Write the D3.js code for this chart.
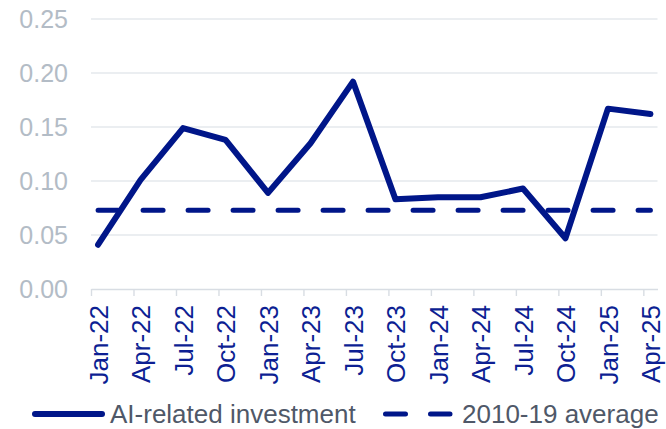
<!DOCTYPE html>
<html>
<head>
<meta charset="utf-8">
<script src="https://cdn.jsdelivr.net/npm/d3@7"></script>
<style>
  html, body { margin: 0; padding: 0; background: #ffffff; }
  svg { display: block; font-family: "Liberation Sans", Arial, sans-serif; }
</style>
</head>
<body>
<svg id="chart" width="666" height="429"></svg>
<script>
// ---- Data ----
const quarterLabels = ["Jan-22","Apr-22","Jul-22","Oct-22","Jan-23","Apr-23","Jul-23","Oct-23","Jan-24","Apr-24","Jul-24","Oct-24","Jan-25","Apr-25"];
const aiInvestment = [0.041, 0.101, 0.149, 0.138, 0.089, 0.135, 0.192, 0.083, 0.085, 0.085, 0.093, 0.047, 0.167, 0.162];
const avg201019 = [0.073, 0.073, 0.073, 0.073, 0.073, 0.073, 0.073, 0.073, 0.073, 0.073, 0.073, 0.073, 0.073, 0.073];
const yTicks = [0, 0.05, 0.10, 0.15, 0.20, 0.25];
const seriesNames = ["AI-related investment", "2010-19 average"];
const monthsPerQuarter = 3;
const totalMonths = 40; // Jan-22 .. Apr-25 monthly slots

// ---- Layout ----
const svg = d3.select("#chart");
const plotLeft = 91, plotRight = 657.5, plotTop = 19, plotBottom = 289;
const navy = "#001689";
const gridColor = "#d8dde3";

const x = d3.scaleLinear().domain([0, totalMonths]).range([plotLeft, plotRight]);
const y = d3.scaleLinear().domain([0, 0.25]).range([plotBottom, plotTop]);
const xPos = i => x(i * monthsPerQuarter + 0.5);

// gridlines
svg.append("g")
  .selectAll("line")
  .data(yTicks.filter(d => d > 0))
  .join("line")
  .attr("x1", plotLeft).attr("x2", plotRight)
  .attr("y1", d => y(d)).attr("y2", d => y(d))
  .attr("stroke", gridColor).attr("stroke-width", 1.2);

// y axis labels
const yAxis = svg.append("g")
  .attr("transform", `translate(${plotLeft},0)`)
  .call(d3.axisLeft(y).tickValues(yTicks).tickFormat(d3.format(".2f")).tickSize(0).tickPadding(23));
yAxis.select(".domain").remove();
yAxis.selectAll("text")
  .attr("fill", "#b3bcc6")
  .style("font-size", "25px");

// x axis (ticks at quarter boundaries)
const xAxis = svg.append("g")
  .attr("transform", `translate(0,${plotBottom})`)
  .call(d3.axisBottom(x)
    .tickValues(quarterLabels.map((d, i) => i * monthsPerQuarter))
    .tickFormat("")
    .tickSize(7)
    .tickSizeOuter(0));
xAxis.select(".domain").attr("stroke", gridColor).attr("stroke-width", 1.4);
xAxis.selectAll(".tick line").attr("stroke", gridColor).attr("stroke-width", 1.4);

// x labels (rotated, centered on quarter's first month)
const xLab = svg.append("g")
  .attr("transform", `translate(0,${plotBottom})`)
  .call(d3.axisBottom(x)
    .tickValues(quarterLabels.map((d, i) => i * monthsPerQuarter + 0.5))
    .tickFormat((d, i) => quarterLabels[i])
    .tickSize(0));
xLab.select(".domain").remove();
xLab.selectAll("text")
  .attr("transform", "rotate(-90)")
  .attr("text-anchor", "end")
  .attr("x", -16)
  .attr("y", 0)
  .attr("dy", "0.36em")
  .attr("fill", "#0d1f93")
  .style("font-size", "26px");

// lines
const lineGen = d3.line().x((d, i) => xPos(i)).y(d => y(d));

svg.append("path")
  .datum(avg201019)
  .attr("d", lineGen)
  .attr("fill", "none")
  .attr("stroke", navy)
  .attr("stroke-width", 5)
  .attr("stroke-linecap", "round")
  .attr("stroke-dasharray", "20,25");

svg.append("path")
  .datum(aiInvestment)
  .attr("d", lineGen)
  .attr("fill", "none")
  .attr("stroke", navy)
  .attr("stroke-width", 6)
  .attr("stroke-linejoin", "round")
  .attr("stroke-linecap", "round");

// legend
const legend = svg.append("g");
const legY = 414;
legend.append("line")
  .attr("x1", 35).attr("x2", 102).attr("y1", legY).attr("y2", legY)
  .attr("stroke", navy).attr("stroke-width", 6).attr("stroke-linecap", "round");
legend.append("text")
  .attr("x", 110).attr("y", 423)
  .attr("fill", "#4f5868")
  .style("font-size", "26px")
  .text(seriesNames[0]);
legend.append("line")
  .attr("x1", 385.5).attr("x2", 450).attr("y1", legY).attr("y2", legY)
  .attr("stroke", navy).attr("stroke-width", 5).attr("stroke-linecap", "round")
  .attr("stroke-dasharray", "20,25");
legend.append("text")
  .attr("x", 462).attr("y", 423)
  .attr("fill", "#4f5868")
  .style("font-size", "26px")
  .text(seriesNames[1]);
</script>
</body>
</html>
